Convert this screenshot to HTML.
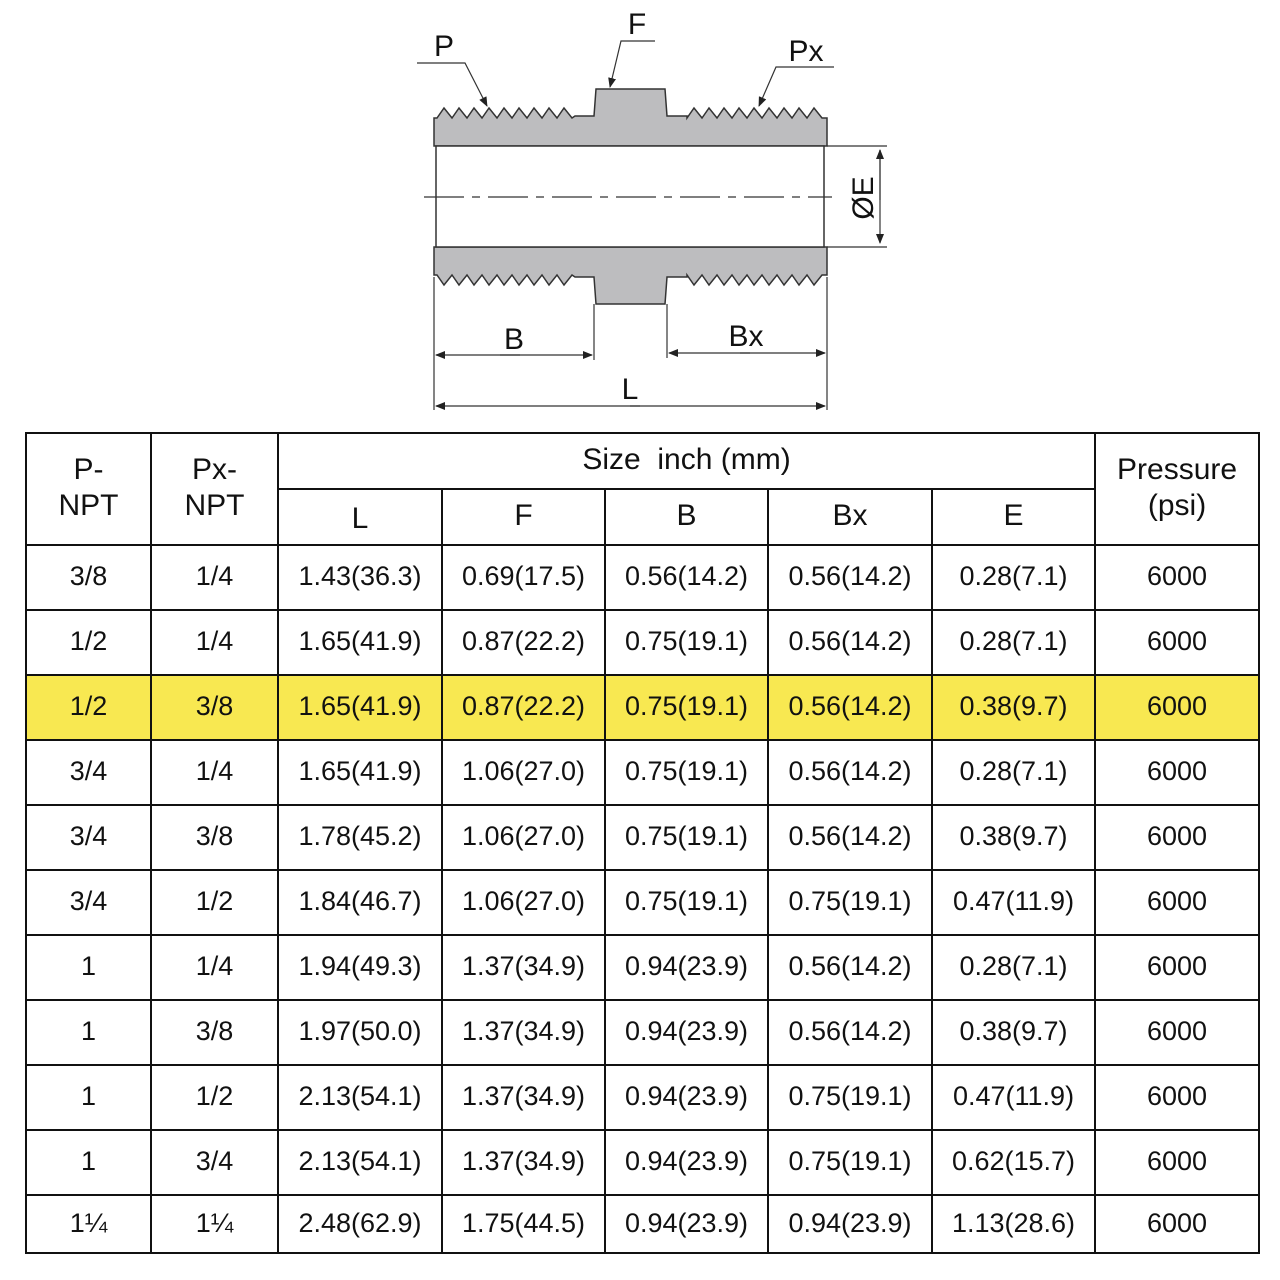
<!DOCTYPE html>
<html><head><meta charset="utf-8"><style>
html,body{margin:0;padding:0;background:#fff;width:1280px;height:1280px;overflow:hidden}
svg{position:absolute;left:0;top:0}
table{position:absolute;left:25px;top:432px;width:1233px;border-collapse:collapse;table-layout:fixed;font-family:"Liberation Sans","Noto Sans CJK SC",sans-serif;font-size:27px;color:#111}
td{border:2px solid #111;text-align:center;vertical-align:middle;padding:0 0 3px 0;line-height:36px}
td.h{font-size:30px}
tr.r td{height:60px}
tr.y td{background:#f8e851}
</style></head><body>
<svg width="1280" height="430" viewBox="0 0 1280 430" font-family="Liberation Sans, sans-serif" fill="none">
<defs><marker id="a" markerWidth="10" markerHeight="8" refX="9" refY="4" orient="auto" markerUnits="userSpaceOnUse"><path d="M0,0 L10,4 L0,8 Z" fill="#222"/></marker></defs>
<path d="M434,146 L434,118 L437,118 444,108 452,118 459,108 467,118 474,108 482,118 489,108 497,118 504,108 512,118 519,108 527,118 534,108 542,118 549,108 557,118 564,108 572,118 575,116 594,116 596,89 665,89 667,116 687,116 687,118 694,108 702,118 709,108 717,118 724,108 732,118 739,108 747,118 754,108 762,118 769,108 777,118 784,108 792,118 799,108 807,118 814,108 822,118 827,118 L827,146 Z" fill="#bdbdbf" stroke="#333" stroke-width="1.5"/>
<path d="M434,247 L434,275 L437,275 444,285 452,275 459,285 467,275 474,285 482,275 489,285 497,275 504,285 512,275 519,285 527,275 534,285 542,275 549,285 557,275 564,285 572,275 575,277 594,277 596,304 665,304 667,277 687,277 687,275 694,285 702,275 709,285 717,275 724,285 732,275 739,285 747,275 754,285 762,275 769,285 777,275 784,285 792,275 799,285 807,275 814,285 822,275 827,275 L827,247 Z" fill="#bdbdbf" stroke="#333" stroke-width="1.5"/>
<rect x="436" y="146" width="388" height="101" fill="#fff" stroke="#333" stroke-width="1.5"/>
<line x1="424" y1="197" x2="832" y2="197" stroke="#333" stroke-width="1.2" stroke-dasharray="40,8,8,8"/>
<g stroke="#333" stroke-width="1.2">
<line x1="827" y1="146" x2="887" y2="146"/><line x1="827" y1="247" x2="887" y2="247"/>
<line x1="880" y1="150" x2="880" y2="243" marker-end="url(#a)"/><line x1="880" y1="200" x2="880" y2="150" marker-end="url(#a)"/>
<line x1="434" y1="277" x2="434" y2="410"/><line x1="594" y1="304" x2="594" y2="360"/><line x1="667" y1="304" x2="667" y2="358"/><line x1="827" y1="277" x2="827" y2="410"/>
<line x1="500" y1="355" x2="592" y2="355" marker-end="url(#a)"/><line x1="520" y1="355" x2="436" y2="355" marker-end="url(#a)"/>
<line x1="740" y1="353" x2="825" y2="353" marker-end="url(#a)"/><line x1="750" y1="353" x2="669" y2="353" marker-end="url(#a)"/>
<line x1="630" y1="406" x2="825" y2="406" marker-end="url(#a)"/><line x1="640" y1="406" x2="436" y2="406" marker-end="url(#a)"/>
<polyline points="417,63 465,63 487,106" marker-end="url(#a)"/>
<polyline points="655,41 621,41 610,87" marker-end="url(#a)"/>
<polyline points="834,67 776,67 759,106" marker-end="url(#a)"/>
</g>
<g fill="#111" font-size="30">
<text x="444" y="56" text-anchor="middle">P</text>
<text x="637" y="34" text-anchor="middle">F</text>
<text x="806" y="61" text-anchor="middle">Px</text>
<text x="514" y="349" text-anchor="middle">B</text>
<text x="746" y="346" text-anchor="middle">Bx</text>
<text x="630" y="399" text-anchor="middle">L</text>
<text transform="translate(873,198) rotate(-90)" text-anchor="middle">ØE</text>
</g>
</svg>
<table>
<colgroup><col style="width:125px"><col style="width:127px"><col style="width:164px"><col style="width:163px"><col style="width:163px"><col style="width:164px"><col style="width:163px"><col style="width:164px"></colgroup>
<tr><td rowspan="2" class="h">P-<br>NPT</td><td rowspan="2" class="h">Px-<br>NPT</td><td colspan="5" class="h" style="height:51px">Size&nbsp; inch (mm)</td><td rowspan="2" class="h">Pressure<br>(psi)</td></tr>
<tr><td class="h" style="height:50px;padding-top:4px;padding-bottom:0">L</td><td class="h">F</td><td class="h">B</td><td class="h">Bx</td><td class="h">E</td></tr>
<tr class="r"><td>3/8</td><td>1/4</td><td>1.43(36.3)</td><td>0.69(17.5)</td><td>0.56(14.2)</td><td>0.56(14.2)</td><td>0.28(7.1)</td><td>6000</td></tr>
<tr class="r"><td>1/2</td><td>1/4</td><td>1.65(41.9)</td><td>0.87(22.2)</td><td>0.75(19.1)</td><td>0.56(14.2)</td><td>0.28(7.1)</td><td>6000</td></tr>
<tr class="r y"><td>1/2</td><td>3/8</td><td>1.65(41.9)</td><td>0.87(22.2)</td><td>0.75(19.1)</td><td>0.56(14.2)</td><td>0.38(9.7)</td><td>6000</td></tr>
<tr class="r"><td>3/4</td><td>1/4</td><td>1.65(41.9)</td><td>1.06(27.0)</td><td>0.75(19.1)</td><td>0.56(14.2)</td><td>0.28(7.1)</td><td>6000</td></tr>
<tr class="r"><td>3/4</td><td>3/8</td><td>1.78(45.2)</td><td>1.06(27.0)</td><td>0.75(19.1)</td><td>0.56(14.2)</td><td>0.38(9.7)</td><td>6000</td></tr>
<tr class="r"><td>3/4</td><td>1/2</td><td>1.84(46.7)</td><td>1.06(27.0)</td><td>0.75(19.1)</td><td>0.75(19.1)</td><td>0.47(11.9)</td><td>6000</td></tr>
<tr class="r"><td>1</td><td>1/4</td><td>1.94(49.3)</td><td>1.37(34.9)</td><td>0.94(23.9)</td><td>0.56(14.2)</td><td>0.28(7.1)</td><td>6000</td></tr>
<tr class="r"><td>1</td><td>3/8</td><td>1.97(50.0)</td><td>1.37(34.9)</td><td>0.94(23.9)</td><td>0.56(14.2)</td><td>0.38(9.7)</td><td>6000</td></tr>
<tr class="r"><td>1</td><td>1/2</td><td>2.13(54.1)</td><td>1.37(34.9)</td><td>0.94(23.9)</td><td>0.75(19.1)</td><td>0.47(11.9)</td><td>6000</td></tr>
<tr class="r"><td>1</td><td>3/4</td><td>2.13(54.1)</td><td>1.37(34.9)</td><td>0.94(23.9)</td><td>0.75(19.1)</td><td>0.62(15.7)</td><td>6000</td></tr>
<tr><td style="height:53px">1¼</td><td>1¼</td><td>2.48(62.9)</td><td>1.75(44.5)</td><td>0.94(23.9)</td><td>0.94(23.9)</td><td>1.13(28.6)</td><td>6000</td></tr>
</table>
</body></html>
